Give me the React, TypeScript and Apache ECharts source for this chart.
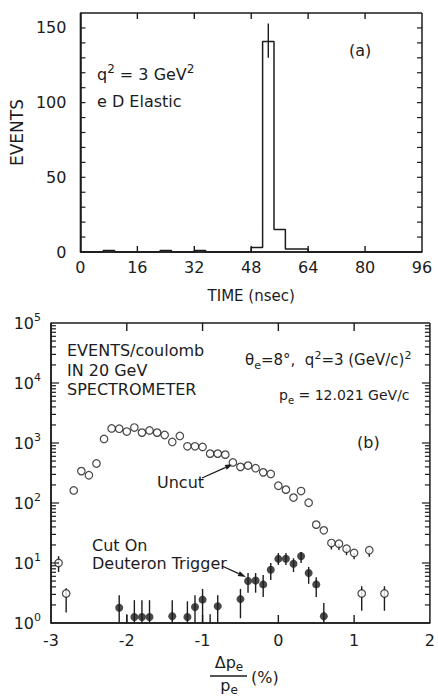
import React, { useEffect, useRef } from 'react';
import * as echarts from 'echarts';

const FONT = '"DejaVu Sans", "Liberation Sans", sans-serif';
const INK = '#1c1c1c';

// ---------- Panel (a): TIME histogram ----------
const binWidth = 3.2;
const histCounts = [0, 0, 1, 0, 0, 0, 0, 1, 0, 0, 1, 0, 0, 0, 0, 3, 141, 15, 2, 2, 0, 0, 0, 0, 0, 0, 0, 0, 0, 0];
const peakError = [[52.8, 130, 153]];
const eventLabels = [0, 50, 100, 150];

// ---------- Panel (b): momentum spectrum ----------
const uncutX = [-2.9, -2.8, -2.7, -2.6, -2.5, -2.4, -2.3, -2.2, -2.1, -2.0, -1.9, -1.8, -1.7, -1.6, -1.5, -1.4, -1.3, -1.2, -1.1, -1.0, -0.9, -0.8, -0.7, -0.6, -0.5, -0.4, -0.3, -0.2, -0.1, 0.0, 0.1, 0.2, 0.3, 0.4, 0.5, 0.6, 0.7, 0.8, 0.9, 1.0, 1.1, 1.2, 1.4];
const uncutY = [10, 3.1, 162, 340, 290, 455, 1170, 1750, 1730, 1550, 1810, 1490, 1620, 1490, 1360, 1040, 1310, 880, 880, 860, 665, 665, 640, 475, 400, 420, 380, 324, 305, 194, 167, 123, 158, 101, 43.6, 35, 21.5, 21, 17.3, 14.7, 3.1, 16.3, 3.1];
const uncutErr = [
  [-2.9, 7.1, 13], [-2.8, 1.5, 3.8], [0.7, 16.8, 21.5], [0.8, 16.4, 21], [0.9, 13.5, 17.3],
  [1.0, 11.5, 14.7], [1.1, 1.6, 4.1], [1.2, 12.7, 16.3], [1.4, 1.6, 4.1],
];
const cutX = [-2.1, -1.9, -1.8, -1.7, -1.4, -1.2, -1.1, -1.0, -0.8, -0.5, -0.4, -0.3, -0.2, -0.1, 0.0, 0.1, 0.2, 0.3, 0.4, 0.5, 0.6];
const cutY = [1.8, 1.26, 1.26, 1.26, 1.3, 1.26, 1.85, 2.45, 1.9, 2.5, 5.0, 5.1, 4.4, 7.7, 11.7, 11.8, 9.7, 13, 6.8, 4.4, 1.3];
const cutErr = [
  [-2.1, 1, 2.9], [-2.0, 1, 1.4], [-1.9, 1, 2.4], [-1.8, 1, 2.4], [-1.7, 1, 2.4], [-1.4, 1, 2.4],
  [-1.2, 1, 2.3], [-1.1, 1, 2.9], [-1.0, 1, 3.7], [-0.9, 1, 1.4], [-0.8, 1, 2.9], [-0.5, 1.2, 3.7],
  [-0.4, 3.2, 6.8], [-0.3, 3.2, 6.8], [-0.2, 2.7, 6.3], [-0.1, 5.2, 10], [0.0, 9.3, 14.7],
  [0.1, 9.3, 14.7], [0.2, 7.1, 12], [0.3, 10, 15.3], [0.4, 4.5, 8.6], [0.5, 2.7, 5.8], [0.6, 1, 2.15],
];

// axis extents
const TA = { x0: 0, x1: 96, xStep: 16, y0: 0, y1: 160, yStep: 10 };
const TB = { x0: -3, x1: 2, xStep: 1, y0: 1, y1: 100000 };

function arrow(x1: number, y1: number, x2: number, y2: number) {
  const len = 8, w = 2.6;
  const dx = x2 - x1, dy = y2 - y1, L = Math.hypot(dx, dy);
  const ux = dx / L, uy = dy / L;
  const bx = x2 - ux * len, by = y2 - uy * len;
  return [
    { type: 'line', shape: { x1, y1, x2: bx, y2: by }, style: { stroke: INK, lineWidth: 1.3 } },
    {
      type: 'polygon',
      shape: { points: [[x2, y2], [bx - uy * w, by + ux * w], [bx + uy * w, by - ux * w]] },
      style: { fill: INK },
    },
  ];
}

function richFor(size: number) {
  return {
    n: { fontSize: size, lineHeight: size + 6, fontFamily: FONT, color: INK },
    sup: { fontSize: size - 4, lineHeight: size - 4, verticalAlign: 'top', fontFamily: FONT, color: INK },
    sub: { fontSize: size - 4, lineHeight: size - 5, verticalAlign: 'bottom', fontFamily: FONT, color: INK },
  };
}

function txt(x: number, y: number, text: string, size = 16, extra: any = {}) {
  return {
    type: 'text',
    x,
    y,
    style: {
      text,
      fontSize: size,
      fontFamily: FONT,
      fill: INK,
      align: 'left',
      verticalAlign: 'middle',
      rich: richFor(size),
      ...extra,
    },
  };
}

const errRender = (params: any, api: any) => {
  const x = api.value(0);
  const p1 = api.coord([x, api.value(1)]);
  const p2 = api.coord([x, api.value(2)]);
  return {
    type: 'line',
    shape: { x1: p1[0], y1: p1[1], x2: p2[0], y2: p2[1] },
    style: { stroke: INK, lineWidth: 1.4 },
  };
};

function mkAxisLine() {
  return { show: true, onZero: false, lineStyle: { color: INK, width: 1.5 } };
}

const baseGraphic: any[] = [
  // panel (a)
  txt(97, 74, '{n|q}{sup|2}{n| = 3 GeV}{sup|2}'),
  txt(97, 101, 'e D Elastic'),
  txt(349, 50, '(a)'),
  // panel (b)
  txt(67, 350, 'EVENTS/coulomb'),
  txt(67, 370, 'IN 20 GeV'),
  txt(67, 389, 'SPECTROMETER'),
  txt(245, 360, '{n|θ}{sub|e}{n|=8°,  q}{sup|2}{n|=3 (GeV/c)}{sup|2}', 15),
  txt(279, 395, '{n|p}{sub|e}{n| = 12.021 GeV/c}', 14),
  txt(357, 442, '(b)'),
  txt(157, 482, 'Uncut'),
  ...arrow(202, 478, 233, 464),
  txt(92, 545, 'Cut On'),
  txt(92, 563, 'Deuteron Trigger'),
  ...arrow(222, 566, 246, 577),
  // x-axis title of panel (b): fraction
  txt(229, 662, '{n|Δp}{sub|e}', 16, { align: 'center' }),
  { type: 'line', shape: { x1: 210, y1: 676, x2: 247, y2: 676 }, style: { stroke: INK, lineWidth: 1.3 } },
  txt(229, 685, '{n|p}{sub|e}', 16, { align: 'center' }),
  txt(251, 677, '(%)'),
];

export default function App() {
  const ref = useRef<HTMLDivElement>(null);
  useEffect(() => {
    document.body.style.margin = '0';
    const chart = echarts.init(ref.current!, undefined, { renderer: 'svg' });

    const histData: number[][] = histCounts.map((c, i) => [i * binWidth, c]);
    histData.push([histCounts.length * binWidth, 0]);

    const labelStyle = { color: INK, fontSize: 16, fontFamily: FONT };

    const option: any = {
      animation: false,
      backgroundColor: '#fff',
      grid: [
        { left: 77, top: 13, width: 345, height: 239 },
        { left: 51, top: 323, width: 381, height: 300 },
      ],
      xAxis: [
        {
          gridIndex: 0, type: 'value', min: TA.x0, max: TA.x1, interval: TA.xStep, position: 'bottom',
          axisLine: mkAxisLine(), splitLine: { show: false }, axisTick: { show: false },
          axisLabel: { ...labelStyle, margin: 7 },
          name: 'TIME (nsec)', nameLocation: 'middle', nameGap: 36,
          nameTextStyle: { color: INK, fontSize: 15, fontFamily: FONT },
        },
        {
          gridIndex: 1, type: 'value', min: TB.x0, max: TB.x1, interval: TB.xStep, position: 'bottom',
          axisLine: mkAxisLine(), splitLine: { show: false }, axisTick: { show: false },
          axisLabel: { ...labelStyle, margin: 9 },
        },
      ],
      yAxis: [
        {
          gridIndex: 0, type: 'value', min: TA.y0, max: TA.y1, interval: TA.yStep, position: 'left',
          axisLine: mkAxisLine(), splitLine: { show: false }, axisTick: { show: false },
          axisLabel: {
            ...labelStyle, margin: 14, interval: 0,
            formatter: (v: number) => (eventLabels.includes(v) ? String(v) : ''),
          },
          name: 'EVENTS', nameLocation: 'middle', nameGap: 50, nameRotate: 90,
          nameTextStyle: { color: INK, fontSize: 17, fontFamily: FONT },
        },
        {
          gridIndex: 1, type: 'log', logBase: 10, min: TB.y0, max: TB.y1, position: 'left',
          axisLine: mkAxisLine(), splitLine: { show: false }, axisTick: { show: false },
          axisLabel: {
            color: INK, margin: 10,
            formatter: (v: number) => '{b|10}{s|' + Math.round(Math.log10(v)) + '}',
            rich: {
              b: { fontSize: 16, lineHeight: 22, fontFamily: FONT, color: INK },
              s: { fontSize: 11, lineHeight: 12, verticalAlign: 'top', fontFamily: FONT, color: INK },
            },
          },
        },
      ],
      series: [
        {
          type: 'line', xAxisIndex: 0, yAxisIndex: 0, data: histData, step: 'end',
          symbol: 'none', lineStyle: { color: INK, width: 1.5 },
        },
        {
          type: 'custom', xAxisIndex: 0, yAxisIndex: 0, data: peakError,
          encode: { x: 0, y: [1, 2] }, renderItem: errRender,
        },
        {
          type: 'custom', xAxisIndex: 1, yAxisIndex: 1, data: uncutErr,
          encode: { x: 0, y: [1, 2] }, renderItem: errRender,
        },
        {
          type: 'custom', xAxisIndex: 1, yAxisIndex: 1, data: cutErr,
          encode: { x: 0, y: [1, 2] }, renderItem: errRender,
        },
        {
          type: 'scatter', xAxisIndex: 1, yAxisIndex: 1,
          data: uncutX.map((x, i) => [x, uncutY[i]]),
          symbol: 'circle', symbolSize: 7.5,
          itemStyle: { color: '#fff', borderColor: INK, borderWidth: 1.2 },
        },
        {
          type: 'scatter', xAxisIndex: 1, yAxisIndex: 1,
          data: cutX.map((x, i) => [x, cutY[i]]),
          symbol: 'circle', symbolSize: 8,
          itemStyle: { color: INK },
        },
      ],
      graphic: baseGraphic,
    };
    chart.setOption(option);

    // Frame and ticks on all four sides, placed through the axes' own scales.
    const pa = (x: number, y: number) => chart.convertToPixel({ gridIndex: 0 }, [x, y]) as number[];
    const pb = (x: number, y: number) => chart.convertToPixel({ gridIndex: 1 }, [x, y]) as number[];
    const seg = (x1: number, y1: number, x2: number, y2: number, w = 1.4) => ({
      type: 'line',
      silent: true,
      z: 50,
      shape: { x1, y1, x2, y2 },
      style: { stroke: INK, lineWidth: w },
    });
    const extra: any[] = [];
    const frame = (p: (x: number, y: number) => number[], T: any) => {
      const a = p(T.x0, T.y0), b = p(T.x1, T.y1);
      extra.push(seg(a[0], a[1], b[0], a[1], 1.5));
      extra.push(seg(a[0], b[1], b[0], b[1], 1.5));
      extra.push(seg(a[0], a[1], a[0], b[1], 1.5));
      extra.push(seg(b[0], a[1], b[0], b[1], 1.5));
    };
    frame(pa, TA);
    frame(pb, TB);
    // panel (a) ticks
    for (let x = TA.x0 + TA.xStep; x < TA.x1; x += TA.xStep) {
      const lo = pa(x, TA.y0), hi = pa(x, TA.y1);
      extra.push(seg(lo[0], lo[1], lo[0], lo[1] - 6));
      extra.push(seg(hi[0], hi[1], hi[0], hi[1] + 6));
    }
    for (let y = TA.y0 + TA.yStep; y < TA.y1; y += TA.yStep) {
      const l = pa(TA.x0, y), r = pa(TA.x1, y);
      extra.push(seg(l[0], l[1], l[0] + 5, l[1], 1.2));
      extra.push(seg(r[0], r[1], r[0] - 5, r[1], 1.2));
    }
    // panel (b) ticks
    for (let x = TB.x0 + TB.xStep; x < TB.x1; x += TB.xStep) {
      const lo = pb(x, TB.y0), hi = pb(x, TB.y1);
      extra.push(seg(lo[0], lo[1], lo[0], lo[1] - 8));
      extra.push(seg(hi[0], hi[1], hi[0], hi[1] + 8));
    }
    for (let d = 0; d < 5; d++) {
      for (let k = 1; k <= 9; k++) {
        const v = k * Math.pow(10, d);
        if (v <= TB.y0) continue;
        const len = k === 1 ? 8 : 5;
        const l = pb(TB.x0, v), r = pb(TB.x1, v);
        extra.push(seg(l[0], l[1], l[0] + len, l[1], 1.2));
        extra.push(seg(r[0], r[1], r[0] - len, r[1], 1.2));
      }
    }
    chart.setOption({ graphic: [...baseGraphic, ...extra] });

    return () => chart.dispose();
  }, []);
  return <div ref={ref} style={{ width: 438, height: 698 }} />;
}
